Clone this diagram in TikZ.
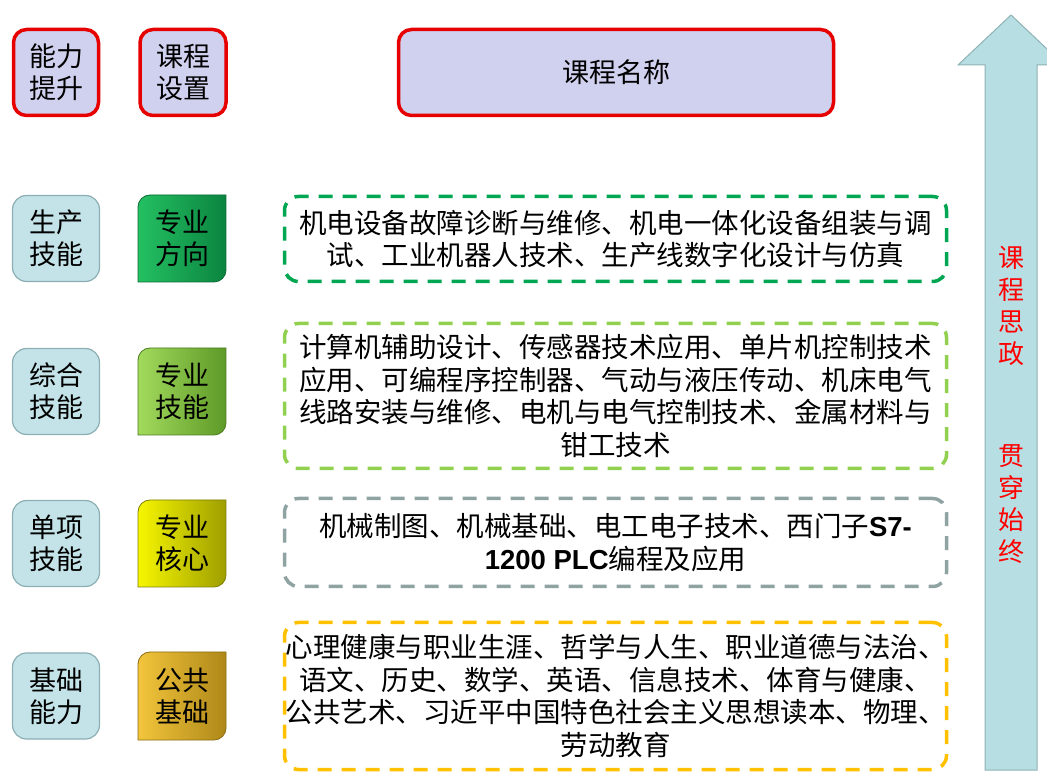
\documentclass[tikz,border=0pt]{standalone}
\usepackage{fontspec}
\setmainfont{Noto Sans CJK SC}
\newfontfamily\latinbold{Liberation Sans}
\definecolor{boxred}{HTML}{E60000}
\definecolor{lav}{HTML}{D0D1EF}
\definecolor{lvlfill}{HTML}{C3E3E8}
\definecolor{lvlborder}{HTML}{8CAFB4}
\definecolor{arrowfill}{HTML}{B7DEE3}
\definecolor{arrowborder}{HTML}{8FB2B4}
\definecolor{dA}{HTML}{00A651}
\definecolor{dB}{HTML}{92D050}
\definecolor{dC}{HTML}{8FA3A3}
\definecolor{dD}{HTML}{FFC000}
\definecolor{gAl}{HTML}{24C062}
\definecolor{gAr}{HTML}{0B8440}
\definecolor{gBl}{HTML}{A2DA5C}
\definecolor{gBr}{HTML}{5E9A28}
\definecolor{gCl}{HTML}{F6F600}
\definecolor{gCr}{HTML}{9E9E00}
\definecolor{gDl}{HTML}{F3C53C}
\definecolor{gDr}{HTML}{AE8818}
\newcommand{\diagbox}[6]{%
  \shade[left color=#5, right color=#6, draw=#6!80!black, line width=0.8pt]
    (#1,#2) -- (#1,#4-12) arc[start angle=180, end angle=90, radius=12]
    -- (#3,#4) -- (#3,#2+12) arc[start angle=0, end angle=-90, radius=12] -- cycle;}
\begin{document}
\begin{tikzpicture}[x=1pt,y=1pt,
  topbox/.style={draw=boxred, line width=3.5pt, fill=lav, rounded corners=13pt,
    align=center, font=\fontsize{27}{32}\selectfont, inner sep=0pt,
    minimum height=86pt},
  lvl/.style={draw=lvlborder, line width=1.2pt, fill=lvlfill, rounded corners=14pt,
    minimum width=87pt, minimum height=86pt, align=center,
    font=\fontsize{27}{32}\selectfont, inner sep=0pt},
  gtext/.style={align=center, font=\fontsize{27}{32}\selectfont, inner sep=0pt},
  dbox/.style={dash pattern=on 14pt off 10pt, line width=3.5pt, rounded corners=14pt,
    minimum width=662pt, align=center, inner sep=0pt,
    font=\fontsize{27.5}{32.5}\selectfont},
  vtext/.style={align=center, text=red, font=\fontsize{26}{32}\selectfont, inner sep=0pt}
]
\clip (0,0) rectangle (1047,774);
% arrow
\path[draw=arrowborder, fill=arrowfill, line width=1pt]
  (985,4) -- (985,709) -- (958,709) -- (1011,759) -- (1064,709) -- (1037,709) -- (1037,4) -- cycle;
\node[vtext] (v1) at (1011,468) {课\\程\\思\\政};
\node[vtext] (v2) at (1011,270) {贯\\穿\\始\\终};
% top row
\node[topbox, minimum width=85pt] (nl) at (56,701.5) {能力\\提升};
\node[topbox, minimum width=86pt] (kc) at (183,701.5) {课程\\设置};
\node[topbox, minimum width=435pt] (mc) at (616,701.5) {课程名称};
% left column
\node[lvl] (l1) at (56,535.5) {生产\\技能};
\node[lvl] (l2) at (56,382.5) {综合\\技能};
\node[lvl] (l3) at (56,230.5) {单项\\技能};
\node[lvl] (l4) at (56,78) {基础\\能力};
% gradient column
\diagbox{138}{492}{226}{579}{gAl}{gAr}
\diagbox{138}{339}{226}{426}{gBl}{gBr}
\diagbox{138}{187}{226}{274}{gCl}{gCr}
\diagbox{138}{34}{226}{122}{gDl}{gDr}
\node[gtext] (g1) at (182,535.5) {专业\\方向};
\node[gtext] (g2) at (182,382.5) {专业\\技能};
\node[gtext] (g3) at (182,230.5) {专业\\核心};
\node[gtext] (g4) at (182,78) {公共\\基础};
% dashed course boxes
\node[dbox, draw=dA, minimum height=85pt] (d1) at (615.5,535)
  {机电设备故障诊断与维修、机电一体化设备组装与调\\试、工业机器人技术、生产线数字化设计与仿真};
\node[dbox, draw=dB, minimum height=145pt] (d2) at (615.5,378)
  {计算机辅助设计、传感器技术应用、单片机控制技术\\应用、可编程序控制器、气动与液压传动、机床电气\\线路安装与维修、电机与电气控制技术、金属材料与\\钳工技术};
\node[dbox, draw=dC, minimum height=88pt] (d3) at (615.5,231.5)
  {机械制图、机械基础、电工电子技术、西门子{\latinbold\bfseries S7-}\\{\latinbold\bfseries 1200 PLC}编程及应用};
\node[dbox, draw=dD, minimum height=147pt] (d4) at (615.5,78)
  {心理健康与职业生涯、哲学与人生、职业道德与法治、\\语文、历史、数学、英语、信息技术、体育与健康、\\公共艺术、习近平中国特色社会主义思想读本、物理、\\劳动教育};
\end{tikzpicture}
\end{document}
